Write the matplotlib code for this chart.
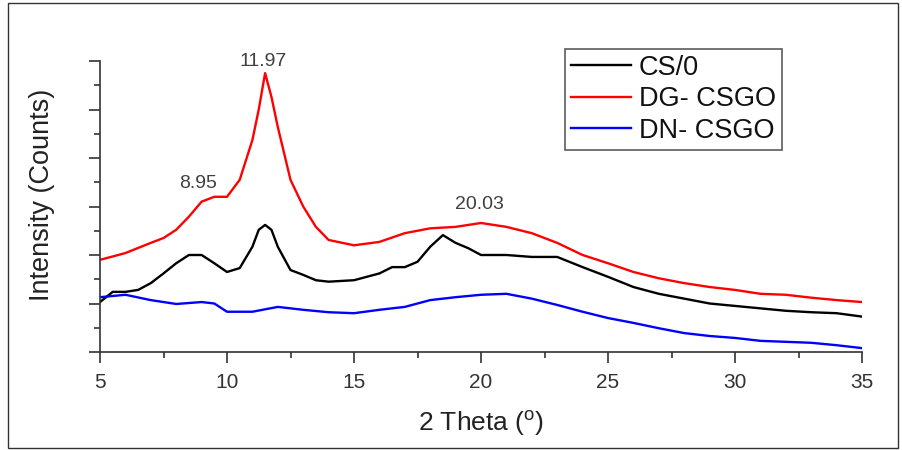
import matplotlib.pyplot as plt
from matplotlib.patches import Rectangle
from matplotlib.ticker import MultipleLocator

plt.rcParams['font.family'] = ['Liberation Sans', 'DejaVu Sans']
plt.rcParams['mathtext.fontset'] = 'custom'
plt.rcParams['mathtext.rm'] = 'Liberation Sans'

# CS/0
cs_x = [5, 5.5, 6, 6.5, 7, 7.5, 8, 8.5, 9, 9.5, 10, 10.5, 11, 11.25, 11.5, 11.75,
        12, 12.5, 13, 13.5, 14, 15, 16, 16.5, 17, 17.5, 18, 18.5, 19, 19.5, 20,
        21, 22, 23, 24, 25, 26, 27, 28, 29, 30, 31, 32, 33, 34, 35]
cs_y = [1.03, 1.24, 1.24, 1.28, 1.42, 1.62, 1.83, 2.0, 2.0, 1.83, 1.65, 1.73, 2.17, 2.52, 2.62, 2.52,
        2.17, 1.69, 1.59, 1.48, 1.45, 1.48, 1.62, 1.75, 1.75, 1.86, 2.17, 2.41, 2.25, 2.14, 2.0,
        2.0, 1.96, 1.96, 1.75, 1.55, 1.34, 1.2, 1.1, 1.0, 0.95, 0.9, 0.85, 0.82, 0.8, 0.73]

# DG- CSGO
dg_x = [5, 6, 7, 7.5, 8, 8.5, 9, 9.5, 10, 10.5, 11, 11.25, 11.5, 11.75, 12, 12.5,
        13, 13.5, 14, 15, 16, 17, 18, 19, 20, 21, 22, 23, 24, 25, 26, 27, 28, 29,
        30, 31, 32, 33, 34, 35]
dg_y = [1.90, 2.04, 2.25, 2.35, 2.52, 2.79, 3.10, 3.2, 3.2, 3.55, 4.37, 5.0, 5.75, 5.26, 4.64, 3.55,
        3.0, 2.58, 2.31, 2.2, 2.27, 2.45, 2.55, 2.58, 2.66, 2.58, 2.45, 2.25, 2.0, 1.83, 1.65, 1.52, 1.42, 1.34,
        1.28, 1.2, 1.18, 1.12, 1.07, 1.03]

# DN- CSGO
dn_x = [5, 6, 7, 8, 9, 9.5, 10, 11, 12, 13, 14, 15, 16, 17, 18, 19, 20, 21, 22,
        23, 24, 25, 26, 27, 28, 29, 30, 31, 32, 33, 34, 35]
dn_y = [1.13, 1.18, 1.07, 0.99, 1.03, 1.0, 0.83, 0.83, 0.93, 0.87, 0.82, 0.80, 0.87, 0.93, 1.07, 1.13, 1.18, 1.2, 1.1,
        0.97, 0.83, 0.7, 0.6, 0.49, 0.39, 0.33, 0.29, 0.23, 0.21, 0.19, 0.14, 0.08]

# peak labels
peak_labels = ['8.95', '11.97', '20.03']
peak_x = [8.86, 11.42, 19.92]
peak_y = [3.48, 6.0, 3.05]

fig = plt.figure(figsize=(9.02, 4.5), dpi=100)
ax = fig.add_axes([100 / 902, 98 / 450, 762 / 902, 291 / 450])

ax.plot(cs_x, cs_y, color='black', linewidth=1.7, label='CS/0')
ax.plot(dg_x, dg_y, color='#ff0000', linewidth=1.7, label='DG- CSGO')
ax.plot(dn_x, dn_y, color='#0000ff', linewidth=1.7, label='DN- CSGO')

for lab, px, py in zip(peak_labels, peak_x, peak_y):
    ax.text(px, py, lab, ha='center', va='center', fontsize=14, color='#404040')

ax.set_xlim(5, 35)
ax.set_ylim(0, 6)
ax.xaxis.set_major_locator(MultipleLocator(5))
ax.xaxis.set_minor_locator(MultipleLocator(2.5))
ax.yaxis.set_major_locator(MultipleLocator(1))
ax.yaxis.set_minor_locator(MultipleLocator(0.5))
ax.set_yticklabels([])
ax.tick_params(which='major', direction='out', length=8, width=1.2, color='#333333',
               labelsize=15, pad=7, labelcolor='#333333')
ax.tick_params(which='minor', direction='out', length=4, width=1.2, color='#333333')

for s in ['top', 'right']:
    ax.spines[s].set_visible(False)
for s in ['left', 'bottom']:
    ax.spines[s].set_linewidth(1.2)
    ax.spines[s].set_color('#333333')

ax.set_xlabel(r'2 Theta ($^\mathrm{o}$)', fontsize=19, color='#222222')
ax.set_ylabel('Intensity (Counts)', fontsize=19.5, color='#222222')
ax.xaxis.set_label_coords(0.5, -0.195)
ax.yaxis.set_label_coords(-0.059, 0.54)

leg = ax.legend(loc='upper left', bbox_to_anchor=(565 / 902, 1 - 49 / 450),
                bbox_transform=fig.transFigure, fontsize=19.5, frameon=True,
                fancybox=False, edgecolor='#333333', handlelength=2.2,
                handletextpad=0.3, labelspacing=0.2, borderpad=0.22,
                borderaxespad=0)
leg.get_frame().set_linewidth(1.2)
for t in leg.get_texts():
    t.set_color('#111111')

fig.patches.append(Rectangle((8 / 902, 2 / 450), 890 / 902, 445 / 450,
                             transform=fig.transFigure, fill=False,
                             edgecolor='#333333', linewidth=1.0))

plt.savefig('out.png', dpi=100)
